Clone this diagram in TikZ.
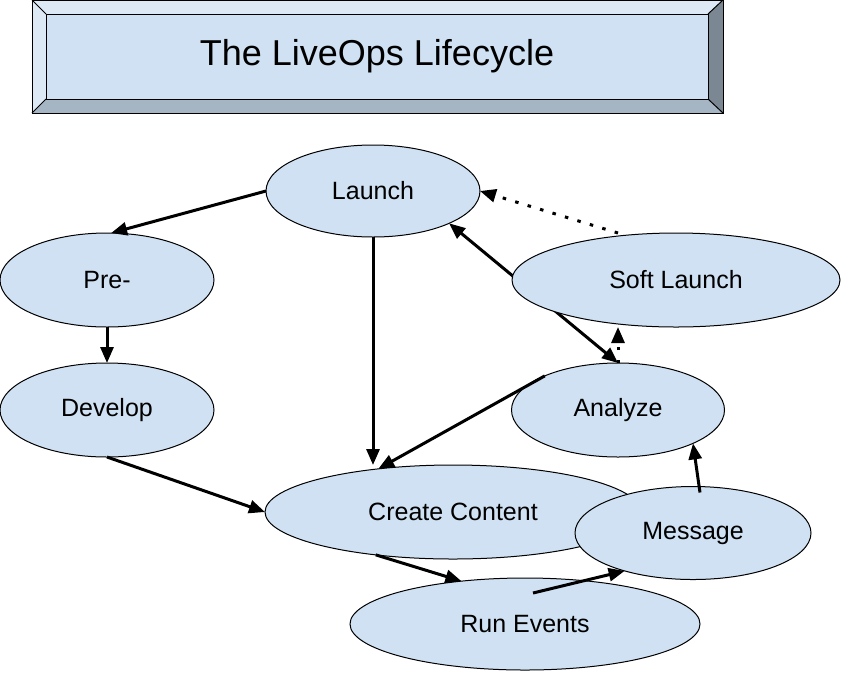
\documentclass[tikz,border=0pt]{standalone}
\usepackage{fontspec}
\setmainfont{Liberation Sans}
\usetikzlibrary{positioning, arrows.meta, shapes}
\definecolor{stageblue}{RGB}{207,225,242}
\definecolor{bevellight}{RGB}{221,233,245}
\definecolor{bevelmid}{RGB}{166,181,195}
\definecolor{beveldark}{RGB}{123,136,148}

\begin{document}
\begin{tikzpicture}[x=1pt, y=-1pt]
  \tikzstyle{stage} = [ellipse, draw=black, fill=stageblue, line width=1pt,
    inner sep=0pt, outer sep=0pt, font=\fontsize{25}{28}\selectfont]
  \tikzstyle{link} = [line width=3pt, -{Triangle[length=16pt,width=13pt]}]
  \tikzstyle{dotlink} = [link, dash pattern=on 3.5pt off 9.5pt]

  \useasboundingbox (0,0) rectangle (850,681);

  % Titulo con bisel
  \fill[bevellight] (32,0) -- (723,0) -- (708,14) -- (46,14) -- cycle;
  \fill[bevellight] (32,0) -- (46,14) -- (46,99) -- (32,113) -- cycle;
  \fill[bevelmid] (32,113) -- (46,99) -- (708,99) -- (723,113) -- cycle;
  \fill[beveldark] (723,0) -- (723,113) -- (708,99) -- (708,14) -- cycle;
  \draw[line width=1pt] (32,0) rectangle (723,113);
  \draw[line width=1pt] (32,0) -- (46,14) (723,0) -- (708,14)
    (32,113) -- (46,99) (723,113) -- (708,99);
  \node[rectangle, draw=black, fill=stageblue, line width=1pt,
    minimum width=662pt, minimum height=85pt,
    font=\fontsize{36}{40}\selectfont] (title) at (377,56.5) {The LiveOps Lifecycle};

  % Fases
  \node[stage, minimum width=214pt, minimum height=92pt] (launch) at (373,191) {Launch};
  \node[stage, minimum width=214pt, minimum height=94pt] (pre) at (107,280) {Pre-};
  \node[stage, minimum width=214pt, minimum height=94pt] (develop) at (107,410) {Develop};
  \node[stage, minimum width=376pt, minimum height=94pt] (create) at (453,512) {Create Content};
  \node[stage, minimum width=350pt, minimum height=92pt] (runevents) at (525,624) {Run Events};
  \node[stage, minimum width=236pt, minimum height=93pt] (message) at (693,533) {Message};
  \node[stage, minimum width=213pt, minimum height=94pt] (analyze) at (618,410) {Analyze};

  % Linea por detras de Soft Launch
  \draw[line width=3pt, {Triangle[length=16pt,width=13pt]}-{Triangle[length=16pt,width=13pt]}]
    (analyze.north) -- (launch.337);

  \node[stage, minimum width=328pt, minimum height=94pt] (softlaunch) at (676,280) {Soft Launch};

  % Flechas
  \draw[link] (launch.west) -- (pre.85);
  \draw[link] (pre.south) -- (develop.north);
  \draw[link] (develop.south) -- (create.west);
  \draw[link] (launch.south) -- (launch.south |- create.north);
  \draw[link] (analyze.155) -- (create.150);
  \draw[link] (create.209) -- (runevents.146);
  \coordinate (evstart) at (533,593);
  \draw[link] (evstart) -- (message.209);
  \draw[link] ([xshift=7pt,yshift=-6pt]message.north) -- (analyze.-24);
  \draw[dotlink] (analyze.north) -- (analyze.north |- softlaunch.south);
  \draw[dotlink] (analyze.north |- softlaunch.north) -- (launch.east);
\end{tikzpicture}
\end{document}
